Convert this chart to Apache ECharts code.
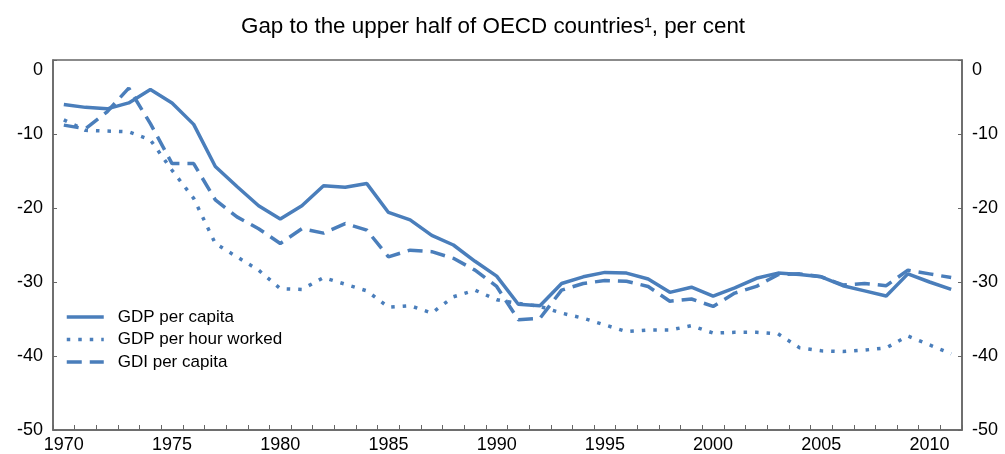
<!DOCTYPE html>
<html>
<head>
<meta charset="utf-8">
<script src="https://cdn.jsdelivr.net/npm/echarts@6/dist/echarts.min.js"></script>
<style>html,body{margin:0;padding:0;background:#fff}#c{width:1005px;height:454px}</style>
</head>
<body>
<div id="c"></div>
<script>
const titleText = 'Gap to the upper half of OECD countries\u00B9, per cent';
const years = [];
for (let y = 1970; y <= 2011; y++) years.push(String(y));
const seriesNames = ['GDP per capita', 'GDP per hour worked', 'GDI per capita'];
const gdpPerCapita = [-6.0,-6.4,-6.6,-5.8,-4.0,-5.8,-8.7,-14.4,-17.1,-19.7,
  -21.5,-19.7,-17.0,-17.2,-16.7,-20.6,-21.6,-23.7,-25.0,-27.2,
  -29.2,-33.0,-33.2,-30.2,-29.3,-28.7,-28.8,-29.6,-31.4,-30.7,
  -31.9,-30.8,-29.5,-28.8,-29.0,-29.3,-30.5,-31.2,-31.9,-28.9,-30.0,-31.0];
const gdpPerHour = [-8.1,-9.5,-9.6,-9.7,-10.8,-14.9,-18.7,-24.8,-26.6,-28.4,
  -30.9,-31.0,-29.4,-30.3,-31.2,-33.4,-33.2,-34.2,-32.0,-31.1,
  -32.4,-32.9,-33.3,-34.2,-34.9,-35.8,-36.7,-36.5,-36.5,-35.9,
  -36.9,-36.8,-36.8,-37.0,-38.9,-39.3,-39.4,-39.2,-38.9,-37.3,-38.5,-39.7];
const gdiPerCapita = [-8.8,-9.3,-7.0,-3.8,-8.6,-14.0,-14.0,-18.9,-21.2,-22.8,
  -24.8,-22.8,-23.4,-22.1,-23.0,-26.6,-25.7,-25.9,-26.8,-28.4,
  -30.6,-35.1,-34.9,-31.1,-30.2,-29.8,-29.9,-30.6,-32.6,-32.3,
  -33.3,-31.5,-30.6,-29.0,-28.9,-29.3,-30.4,-30.2,-30.5,-28.4,-28.9,-29.4];

const color = '#4A7EBB';
const font = '"Liberation Sans", Arial, sans-serif';
const axisColor = '#666666';

function yAxis(pos) {
  return {
    type: 'value', position: pos, min: -50, max: 0, interval: 10,
    axisLine: { show: true, onZero: false, lineStyle: { color: axisColor, width: 1.5 } },
    axisTick: { show: true, inside: true, length: 4, lineStyle: { color: axisColor } },
    splitLine: { show: false },
    axisLabel: {
      color: '#000', fontSize: 18, fontFamily: font, margin: 10,
      formatter: v => v === 0 ? '{z|0}' : String(v),
      rich: { z: { fontSize: 18, fontFamily: font, color: '#000', padding: [20, 0, 0, 0] } }
    }
  };
}

const chart = echarts.init(document.getElementById('c'), null, { renderer: 'canvas' });
chart.setOption({
  animation: false,
  title: {
    text: titleText, left: 236, top: 11,
    textStyle: { fontSize: 22.4, fontWeight: 'normal', color: '#000', fontFamily: font }
  },
  grid: { left: 53, right: 43, top: 60, bottom: 24, show: true, borderColor: axisColor, borderWidth: 1.5 },
  legend: {
    orient: 'vertical', left: 60, top: 303,
    itemWidth: 37, itemHeight: 10, itemGap: 4.5,
    itemStyle: { color: 'transparent', borderWidth: 0, opacity: 0 },
    lineStyle: { width: 3.5 },
    textStyle: { fontSize: 17, lineHeight: 18, fontFamily: font, color: '#000', padding: [0, 0, 0, 9] },
    data: seriesNames
  },
  xAxis: {
    type: 'category', data: years, boundaryGap: true,
    axisLine: { onZero: false, lineStyle: { color: axisColor, width: 1.5 } },
    axisTick: { show: true, inside: true, length: 5, interval: 0, lineStyle: { color: axisColor } },
    axisLabel: { interval: 4, color: '#000', fontSize: 18, fontFamily: font, margin: 6 }
  },
  yAxis: [yAxis('left'), yAxis('right')],
  series: [
    { name: seriesNames[0], type: 'line', data: gdpPerCapita, symbol: 'none', color: color,
      lineStyle: { color: color, width: 3.5, type: 'solid' } },
    { name: seriesNames[1], type: 'line', data: gdpPerHour, symbol: 'none', color: color,
      lineStyle: { color: color, width: 3.5, type: [3.5, 8] } },
    { name: seriesNames[2], type: 'line', data: gdiPerCapita, symbol: 'none', color: color,
      lineStyle: { color: color, width: 3.5, type: [15, 8] } }
  ]
});
</script>
</body>
</html>
